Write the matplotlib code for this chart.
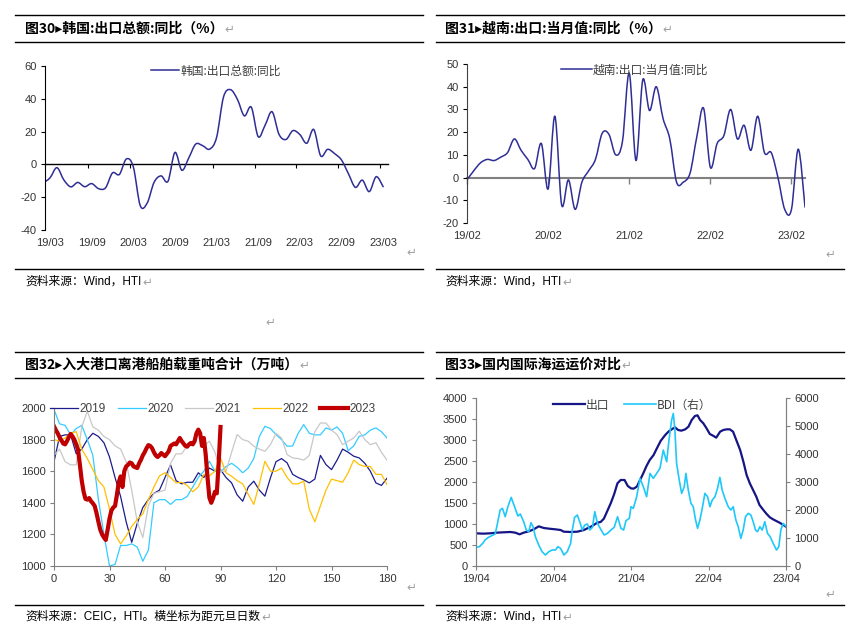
import numpy as np
import matplotlib
matplotlib.use("Agg")
import matplotlib.pyplot as plt
from matplotlib.path import Path
from matplotlib.patches import PathPatch
from matplotlib.lines import Line2D

# ---------------- data ----------------
# Fig 30: Korea exports yoy (%), monthly, first point 2019-02 (month -1 = 19/02, 0 = 19/03)
kr_labels = ["19/03", "19/09", "20/03", "20/09", "21/03", "21/09", "22/03", "22/09", "23/03"]
kr_month = list(range(-1, 49))
kr_yoy = [-11.4, -8.2, -2.0, -9.5, -13.7, -11.0, -13.6, -11.7, -14.8, -14.3, -5.2,
          -6.1, 3.3, -1.4, -25.1, -23.6, -10.9, -7.0, -10.3, 7.3, -3.6, 4.0, 12.4,
          11.4, 9.3, 16.4, 41.1, 45.6, 39.7, 29.6, 34.9, 16.9, 24.0, 32.1, 18.3,
          15.2, 20.6, 18.2, 12.9, 21.3, 5.2, 9.2, 6.6, 2.7, -5.7, -14.0, -9.6,
          -16.6, -7.5, -13.6]

# Fig 31: Vietnam exports yoy (%), monthly from 2019-02 to 2023-04
vn_labels = ["19/02", "20/02", "21/02", "22/02", "23/02"]
vn_month = list(range(0, 51))
vn_yoy = [-1, 3, 6.5, 8, 7.5, 9, 11, 17, 12, 8, 4, 15, -5, 27, -12, -1, -14, -2, 3, 8,
          19.5, 19, 10, 16, 46, 7.5, 43, 29.5, 40, 26, 17, -2, -2, 2, 18, 30.5, 4.5, 15,
          18.5, 30, 17, 23, 12, 27, 11, 11, 0, -14, -14, 12.5, -13]

# Fig 32: departing ship tonnage at 8 major ports (10k t), by days since New Year
port_days = list(range(0, 181, 3))
port_2019 = [1660, 1820, 1830, 1830, 1710, 1740, 1800, 1840, 1820, 1780, 1690, 1560, 1440,
             1280, 1150, 1270, 1370, 1420, 1460, 1480, 1560, 1640, 1540, 1520, 1530, 1530,
             1590, 1560, 1620, 1600, 1610, 1560, 1526, 1450, 1410, 1500, 1537, 1480, 1442,
             1558, 1660, 1680, 1653, 1580, 1560, 1545, 1526, 1550, 1700, 1642, 1610, 1670,
             1740, 1720, 1695, 1684, 1650, 1600, 1526, 1510, 1555]
port_2020 = [1990, 1900, 1890, 1830, 1870, 1890, 1800, 1700, 1420, 1200, 1000, 1010, 1130,
             1130, 1140, 1120, 1030, 1100, 1400, 1420, 1420, 1390, 1420, 1420, 1440, 1500,
             1560, 1600, 1663, 1600, 1595, 1630, 1650, 1625, 1590, 1620, 1680, 1820, 1884,
             1870, 1832, 1800, 1758, 1760, 1840, 1895, 1840, 1830, 1830, 1874, 1860, 1880,
             1840, 1730, 1760, 1821, 1830, 1860, 1874, 1850, 1810]
port_2021 = [1700, 1740, 1660, 1640, 1640, 1880, 1980, 1880, 1860, 1820, 1800, 1760, 1740,
             1660, 1480, 1280, 1180, 1380, 1460, 1470, 1480, 1650, 1710, 1710, 1760, 1790,
             1850, 1760, 1790, 1720, 1600, 1600, 1720, 1832, 1800, 1790, 1758, 1740, 1726,
             1768, 1840, 1810, 1705, 1684, 1680, 1670, 1700, 1850, 1905, 1905, 1860, 1832,
             1768, 1790, 1810, 1853, 1800, 1768, 1780, 1720, 1670]
port_2022 = [1800, 1790, 1810, 1840, 1850, 1740, 1680, 1610, 1540, 1500, 1360, 1200, 1140,
             1190, 1250, 1295, 1330, 1420, 1500, 1570, 1590, 1560, 1526, 1530, 1510, 1470,
             1500, 1580, 1570, 1600, 1684, 1590, 1568, 1540, 1520, 1453, 1390, 1520, 1663,
             1600, 1600, 1620, 1560, 1520, 1520, 1537, 1360, 1280, 1380, 1480, 1550, 1540,
             1530, 1590, 1670, 1642, 1630, 1630, 1580, 1580, 1515]
port_days_2023 = list(range(0, 91))
port_2023 = [1884, 1860, 1840, 1815, 1795, 1775, 1770, 1790, 1815, 1836, 1820, 1800, 1770,
             1736, 1640, 1540, 1470, 1425, 1420, 1430, 1410, 1397, 1380, 1334, 1280, 1230,
             1200, 1180, 1165, 1230, 1300, 1350, 1370, 1380, 1450, 1530, 1567, 1500, 1600,
             1630, 1640, 1655, 1650, 1630, 1625, 1620, 1650, 1672, 1700, 1720, 1745, 1765,
             1760, 1746, 1720, 1700, 1690, 1700, 1715, 1705, 1695, 1710, 1726, 1760, 1768,
             1775, 1770, 1790, 1810, 1790, 1775, 1760, 1755, 1770, 1779, 1770, 1790, 1840,
             1863, 1840, 1760, 1810, 1705, 1558, 1432, 1400, 1430, 1470, 1460, 1650, 1880]
port_series = ["2019", "2020", "2021", "2022", "2023"]

# Fig 33: freight indices, x = months since 2019-04
freight_labels = ["19/04", "20/04", "21/04", "22/04", "23/04"]
ccfi_month = [0, 1.14, 2.18, 3.22, 4.26, 5.3, 6.08, 6.75, 7.38, 8.16, 8.94, 9.71, 10.5, 11.3,
              12.3, 13.1, 13.6, 14.6, 15.7, 16.7, 17.8, 18.8, 19.3, 19.8, 20.4, 20.9, 21.4,
              21.9, 22.4, 23.0, 23.5, 24.0, 24.4, 24.9, 25.4, 25.9, 26.4, 26.9, 27.5, 28.0,
              28.6, 29.3, 29.8, 30.3, 30.8, 31.3, 31.8, 32.4, 32.9, 33.4, 33.9, 34.3, 34.7,
              35.2, 35.7, 36.2, 36.7, 37.2, 37.8, 38.3, 38.8, 39.3, 39.8, 40.3, 40.9, 41.4,
              41.9, 42.4, 42.9, 43.4, 43.9, 44.5, 45.0, 45.5, 46.0, 46.5, 47.0, 47.6, 48.0]
ccfi = [778, 770, 778, 794, 802, 810, 794, 754, 794, 825, 873, 944, 905, 889, 873, 857, 817,
        810, 817, 857, 937, 1032, 1048, 1127, 1333, 1508, 1714, 1968, 2048, 2048, 1905, 1849,
        1841, 1889, 2048, 2206, 2381, 2524, 2643, 2800, 2980, 3119, 3199, 3254, 3302, 3238,
        3222, 3254, 3318, 3476, 3572, 3588, 3476, 3397, 3278, 3143, 3103, 3056, 3199, 3238,
        3254, 3254, 3199, 3000, 2762, 2484, 2167, 1968, 1810, 1651, 1452, 1333, 1238, 1159,
        1111, 1071, 1032, 976, 937]
bdi_month = [0, 0.52, 1.04, 1.4, 1.92, 2.44, 2.96, 3.22, 3.74, 4.1, 4.52, 4.94, 5.45, 5.97,
             6.49, 6.86, 7.38, 7.79, 8.16, 8.52, 8.83, 9.19, 9.71, 10.23, 10.75, 11.27, 11.79,
             12.31, 12.68, 13.09, 13.61, 14.13, 14.65, 14.91, 15.27, 15.69, 16.05, 16.47,
             16.83, 17.25, 17.61, 18.03, 18.39, 18.81, 19.32, 19.84, 20.36, 20.88, 21.4,
             21.92, 22.44, 22.86, 23.22, 23.74, 24.0, 24.36, 24.88, 25.39, 25.91, 26.42,
             26.94, 27.45, 27.97, 28.48, 29.0, 29.52, 29.88, 30.29, 30.55, 30.8, 31.06, 31.47,
             31.84, 32.25, 32.5, 32.87, 33.28, 33.64, 34.0, 34.31, 34.67, 35.08, 35.44, 35.86,
             36.22, 36.58, 37.0, 37.4, 37.76, 38.12, 38.54, 39.05, 39.46, 39.82, 40.24, 40.6,
             41.01, 41.37, 41.73, 42.14, 42.56, 42.92, 43.28, 43.59, 43.95, 44.31, 44.72,
             45.13, 45.55, 46.01, 46.53, 46.89, 47.2, 47.56, 47.97]
bdi = [666, 690, 809, 928, 1023, 1083, 1142, 1404, 1999, 2059, 1761, 2118, 2451, 2118, 1785,
       1856, 1583, 1285, 1226, 1547, 1404, 1047, 750, 512, 393, 512, 571, 571, 690, 631, 393,
       512, 809, 1285, 1737, 1821, 1583, 1285, 1464, 1499, 1285, 1380, 1940, 1523, 1309, 1107,
       1166, 1285, 1380, 1761, 1345, 1285, 1618, 1702, 2118, 2059, 2475, 3130, 2832, 2475,
       3308, 3130, 3308, 3487, 4141, 3725, 4498, 5212, 5450, 4855, 3665, 3070, 2594, 2832,
       3308, 2713, 2237, 2118, 1642, 1345, 1642, 2118, 2594, 2475, 2118, 2356, 2475, 2773,
       3165, 2713, 2416, 2118, 1999, 2118, 1642, 1404, 988, 1285, 1761, 1880, 1821, 1583,
       1285, 1226, 1404, 1285, 1583, 1166, 1047, 809, 571, 690, 1285, 1523, 1428]
freight_series = ["出口", "BDI（右）"]

titles = ["图30▸韩国:出口总额:同比（%）", "图31▸越南:出口:当月值:同比（%）",
          "图32▸入大港口离港船舶载重吨合计（万吨）", "图33▸国内国际海运运价对比"]
sources = ["资料来源：Wind，HTI", "资料来源：Wind，HTI",
           "资料来源：CEIC，HTI。横坐标为距元旦日数", "资料来源：Wind，HTI"]

# ---------------- style ----------------
plt.rcParams['font.family'] = ['Liberation Sans', 'Noto Sans CJK SC', 'DejaVu Sans']
plt.rcParams['axes.unicode_minus'] = False
CJK = ['Noto Sans CJK SC', 'DejaVu Sans']
TICK_C = '#333333'
LEG_C = '#404040'
GRAY = '#808080'
NAVY = '#2E2E96'
C19, C20, C21, C22, C23 = '#1C1C8C', '#33CCFF', '#C8C8C8', '#FFC000', '#C00000'
C_EXP, C_BDI = '#151585', '#1EC8FA'

W, H = 857, 631
fig = plt.figure(figsize=(W / 100, H / 100), dpi=100)
fig.patch.set_facecolor('white')


def fx(x):
    return x / W


def fy(y):
    return 1 - y / H


def px_axes(l, t, r, b):
    return fig.add_axes([l / W, 1 - b / H, (r - l) / W, (b - t) / H])


def hrule(x0, x1, y):
    fig.add_artist(Line2D([fx(x0), fx(x1)], [fy(y), fy(y)], transform=fig.transFigure,
                          color='black', lw=1.0))


def smooth(ax, x, y, **kw):
    """Excel-like smoothed line drawn as cubic Bezier path through the data points."""
    x = np.asarray(x, float)
    y = np.asarray(y, float)
    px = np.concatenate([[x[0]], x, [x[-1]]])
    py = np.concatenate([[y[0]], y, [y[-1]]])
    verts = [(x[0], y[0])]
    codes = [Path.MOVETO]
    for i in range(len(x) - 1):
        c1 = (px[i + 1] + (px[i + 2] - px[i]) / 6, py[i + 1] + (py[i + 2] - py[i]) / 6)
        c2 = (px[i + 2] - (px[i + 3] - px[i + 1]) / 6, py[i + 2] - (py[i + 3] - py[i + 1]) / 6)
        verts += [c1, c2, (px[i + 2], py[i + 2])]
        codes += [Path.CURVE4] * 3
    ax.add_patch(PathPatch(Path(verts, codes), fill=False, capstyle='round',
                           joinstyle='round', **kw))


def legend_at(ax, handles, labels, x, y, **kw):
    args = dict(loc='center left', bbox_to_anchor=(fx(x), fy(y)), bbox_transform=fig.transFigure,
                frameon=False, borderpad=0, borderaxespad=0, handletextpad=0.1,
                labelcolor=LEG_C)
    args.update(kw)
    return ax.legend(handles, labels, **args)


# ---------------- frames / titles ----------------
for (x0, x1) in [(15, 423), (436, 844)]:
    for y in (15, 42, 269, 352, 378, 605):
        hrule(x0, x1, y)

title_pos = [(25, 29), (445, 29), (25, 365), (445, 365)]
source_pos = [(25, 282), (445, 282), (25, 617), (445, 617)]
texts = []
for s, (x, y) in zip(titles, title_pos):
    texts.append(fig.text(fx(x), fy(y), s, ha='left', va='center', fontsize=10,
                          fontweight='bold', family=CJK, color='black'))
for s, (x, y) in zip(sources, source_pos):
    texts.append(fig.text(fx(x), fy(y), s, ha='left', va='center', fontsize=8.5,
                          family=['Liberation Sans', 'Noto Sans CJK SC'], color='black'))
for (x, y) in [(411, 252), (830, 254), (270, 322), (411, 587), (830, 594)]:
    fig.text(fx(x), fy(y), '↵', ha='center', va='center', fontsize=8.5, color='#A0A0A0',
             family='DejaVu Sans')


def style_ticks(ax):
    ax.tick_params(labelsize=8, labelcolor=TICK_C)


# ---------------- panel 1 ----------------
ax1 = px_axes(45, 66, 388, 230)
ax1.set_xlim(-0.72, 48.7)
ax1.set_ylim(-40, 60)
smooth(ax1, kr_month, kr_yoy, color=NAVY, lw=1.1)
for s in ('top', 'right', 'bottom'):
    ax1.spines[s].set_visible(False)
ax1.spines['left'].set_color('black')
ax1.spines['left'].set_linewidth(0.8)
ax1.set_yticks(range(-40, 61, 20))
ax1.set_xticks(range(0, 49, 6))
ax1.set_xticklabels(kr_labels)
style_ticks(ax1)
ax1.tick_params(axis='x', length=0, pad=6)
ax1.tick_params(axis='y', length=3, width=0.8, pad=3)
z1 = ax1.secondary_xaxis(0.4)
z1.set_xticks([m - 0.5 for m in range(6, 49, 6)])
z1.tick_params(length=3, width=0.8, labelbottom=False, color='black')
z1.spines['bottom'].set_color('black')
z1.spines['bottom'].set_linewidth(1.0)
legend_at(ax1, [Line2D([], [], color=NAVY, lw=1.1)], ['韩国:出口总额:同比'], 151, 71,
          handlelength=2.4, prop={'family': CJK, 'size': 8.5})

# ---------------- panel 2 ----------------
ax2 = px_axes(467, 64, 805, 223)
ax2.set_xlim(0, 50)
ax2.set_ylim(-20, 50)
smooth(ax2, vn_month, vn_yoy, color=NAVY, lw=1.1)
for s in ('top', 'right', 'bottom'):
    ax2.spines[s].set_visible(False)
ax2.spines['left'].set_color('#404040')
ax2.spines['left'].set_linewidth(0.8)
ax2.set_yticks(range(-20, 51, 10))
ax2.set_xticks(range(0, 49, 12))
ax2.set_xticklabels(vn_labels)
style_ticks(ax2)
ax2.tick_params(axis='x', length=0, pad=6)
ax2.tick_params(axis='y', length=3, width=0.8, pad=3)
z2 = ax2.secondary_xaxis(20 / 70)
z2.set_xticks(range(0, 49, 12))
z2.tick_params(length=4, width=1.0, labelbottom=False, color=GRAY)
z2.spines['bottom'].set_color(GRAY)
z2.spines['bottom'].set_linewidth(1.5)
legend_at(ax2, [Line2D([], [], color=NAVY, lw=1.1)], ['越南:出口:当月值:同比'], 561, 70,
          handlelength=2.6, prop={'family': CJK, 'size': 8.5})

# ---------------- panel 3 ----------------
ax3 = px_axes(54, 408, 387, 566)
ax3.set_xlim(0, 180)
ax3.set_ylim(1000, 2000)
h19, = ax3.plot(port_days, port_2019, color=C19, lw=0.9)
h20, = ax3.plot(port_days, port_2020, color=C20, lw=0.9)
h21, = ax3.plot(port_days, port_2021, color=C21, lw=0.9)
h22, = ax3.plot(port_days, port_2022, color=C22, lw=0.9)
h23, = ax3.plot(port_days_2023, port_2023, color=C23, lw=3.0, solid_joinstyle='round')
for s in ('top', 'right'):
    ax3.spines[s].set_visible(False)
for s in ('left', 'bottom'):
    ax3.spines[s].set_color(GRAY)
ax3.set_xticks(range(0, 181, 30))
ax3.set_yticks(range(1000, 2001, 200))
style_ticks(ax3)
ax3.tick_params(length=3, width=0.8, color=GRAY, pad=3)
legend_at(ax3, [h19, h20, h21, h22, h23], port_series, 50, 409, ncol=5,
          handlelength=2.4, columnspacing=1.0, prop={'size': 8.5})

# ---------------- panel 4 ----------------
ax4 = px_axes(476, 398, 786, 566)
ax4.set_xlim(0, 48)
ax4.set_ylim(0, 4000)
ax4r = ax4.twinx()
ax4r.set_ylim(0, 6000)
he, = ax4.plot(ccfi_month, ccfi, color=C_EXP, lw=1.6)
hb, = ax4r.plot(bdi_month, bdi, color=C_BDI, lw=1.2)
for a in (ax4, ax4r):
    a.spines['top'].set_visible(False)
    for s in ('left', 'right', 'bottom'):
        a.spines[s].set_color(GRAY)
ax4.set_xticks(range(0, 49, 12))
ax4.set_xticklabels(freight_labels)
ax4.set_yticks(range(0, 4001, 500))
ax4r.set_yticks(range(0, 6001, 1000))
for a in (ax4, ax4r):
    style_ticks(a)
    a.tick_params(length=3, width=0.8, color=GRAY, pad=3)
legend_at(ax4r, [he, hb], freight_series, 553, 405, ncol=2, handlelength=2.7,
          columnspacing=1.2, prop={'family': CJK, 'size': 8.5})

# return marks after titles / sources
fig.canvas.draw()
r = fig.canvas.get_renderer()
for t in texts:
    bb = t.get_window_extent(r)
    xc = bb.x1 / fig.bbox.width
    yc = t.get_position()[1]
    fig.text(xc + 1 / W, yc, '↵', ha='left', va='center', fontsize=8.5, color='#A0A0A0',
             family='DejaVu Sans')

fig.savefig('out.png', dpi=100, facecolor='white')
